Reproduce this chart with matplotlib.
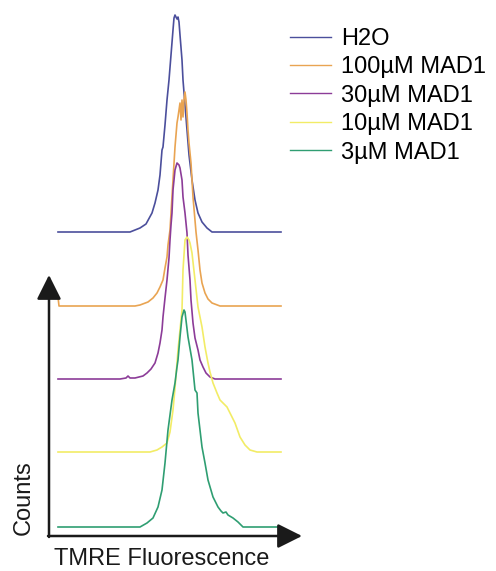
import matplotlib
matplotlib.use("Agg")
import matplotlib.pyplot as plt
from matplotlib.lines import Line2D

plt.rcParams['font.family'] = ['Liberation Sans', 'DejaVu Sans']

# ---- data: TMRE fluorescence (a.u.) vs counts (a.u.), per sample ----
labels = ["H2O", "100\u00b5M MAD1", "30\u00b5M MAD1", "10\u00b5M MAD1", "3\u00b5M MAD1"]
colors = ["#4b4f9c", "#e9a452", "#8c3c98", "#f2ec66", "#2f9e72"]
offsets = [304, 230, 157, 84, 9]

h2o_x = [9, 81, 91, 97, 103, 106, 109, 111, 113, 114, 116, 118, 120, 122, 124, 125, 126, 127, 128,
         129, 130, 131, 133, 134, 136, 138, 140, 143, 146, 149, 153, 158, 163, 232]
h2o_c = [0, 0, 4, 8, 19, 29, 42, 57, 82, 85, 107, 132, 152, 177, 202, 214, 217, 215, 213,
         215, 210, 197, 172, 152, 127, 102, 77, 52, 32, 19, 10, 4, 0, 0]

m100_x = [9, 10, 86, 91, 99, 104, 108, 111, 114, 116, 118, 119, 121, 124, 126, 128, 129, 131, 132,
          133, 134, 135, 136, 137, 138, 139, 140, 142, 144, 147, 149, 151, 153, 156, 159, 163, 171, 232]
m100_c = [9, 0, 0, 1, 4, 8, 13, 19, 26, 38, 49, 61, 76, 126, 159, 183, 189, 203, 186,
          206, 189, 206, 214, 206, 193, 176, 163, 143, 109, 74, 56, 36, 23, 13, 7, 3, 0, 0]

m30_x = [9, 71, 77, 79, 81, 86, 94, 98, 102, 106, 109, 111, 113, 114, 116, 118, 120, 121, 122, 123,
         124, 126, 128, 130, 131, 133, 134, 136, 138, 139, 141, 142, 144, 146, 149, 151, 154, 157,
         161, 166, 232]
m30_c = [0, 0, 1, 3, 1, 1, 3, 6, 10, 16, 26, 36, 49, 62, 81, 99, 121, 139, 154, 166,
         189, 209, 216, 214, 211, 199, 182, 166, 146, 124, 99, 79, 56, 41, 29, 19, 12, 6,
         2, 0, 0]

m10_x = [9, 101, 108, 113, 118, 121, 124, 126, 129, 131, 133, 134, 136, 138, 140, 141, 143, 146,
         149, 153, 156, 159, 161, 164, 168, 171, 175, 178, 183, 186, 191, 196, 201, 208, 232]
m10_c = [0, 0, 2, 5, 9, 20, 42, 64, 102, 122, 142, 182, 212, 215, 212, 209, 199, 172,
         145, 125, 105, 89, 80, 69, 59, 52, 48, 45, 35, 29, 15, 7, 2, 0, 0]

m3_x = [9, 91, 98, 104, 109, 113, 116, 119, 123, 126, 128, 129, 131, 133, 135, 136, 139, 143, 146,
        148, 149, 153, 156, 159, 164, 169, 172, 174, 177, 179, 184, 189, 194, 232]
m3_c = [0, 0, 4, 9, 20, 37, 64, 97, 127, 144, 160, 167, 190, 210, 217, 215, 190, 167, 137,
        134, 114, 80, 64, 47, 30, 20, 16, 14, 15, 12, 9, 5, 0, 0]

series_x = [h2o_x, m100_x, m30_x, m10_x, m3_x]
series_c = [h2o_c, m100_c, m30_c, m10_c, m3_c]

# ---- figure ----
fig = plt.figure(figsize=(4.96, 5.71), dpi=100)
ax = fig.add_axes([0, 0, 1, 1])
ax.set_xlim(-49, 447)
ax.set_ylim(-35, 536)
ax.axis('off')

handles = []
for x, c, off, col, lab in zip(series_x, series_c, offsets, colors, labels):
    ax.plot(x, [v + off for v in c], color=col, lw=1.2, solid_joinstyle='round')
    handles.append(Line2D([0], [0], color=col, lw=1.0, label=lab))

# axis arrows
arrow_kw = dict(arrowstyle='-|>,head_length=1.0,head_width=0.5', lw=1.8,
                color='#1a1a1a', mutation_scale=15, shrinkA=0, shrinkB=0)
ax.annotate('', xy=(0, 261), xytext=(0, -1), arrowprops=arrow_kw)
ax.annotate('', xy=(253, 0), xytext=(-1, 0), arrowprops=arrow_kw)

ax.text(-25, 38, "Counts", rotation=90, ha='center', va='center', fontsize=17, color='#1a1a1a')
ax.text(113, -29, "TMRE Fluorescence", ha='center', va='baseline', fontsize=17, color='#1a1a1a')

fig.legend(handles=handles, loc='upper left', bbox_to_anchor=(290 / 496, 1 - 28 / 571),
           frameon=False, fontsize=17, handlelength=1.75, handletextpad=0.42,
           labelspacing=0.27, borderpad=0, borderaxespad=0)

fig.savefig("out.png", dpi=100)
